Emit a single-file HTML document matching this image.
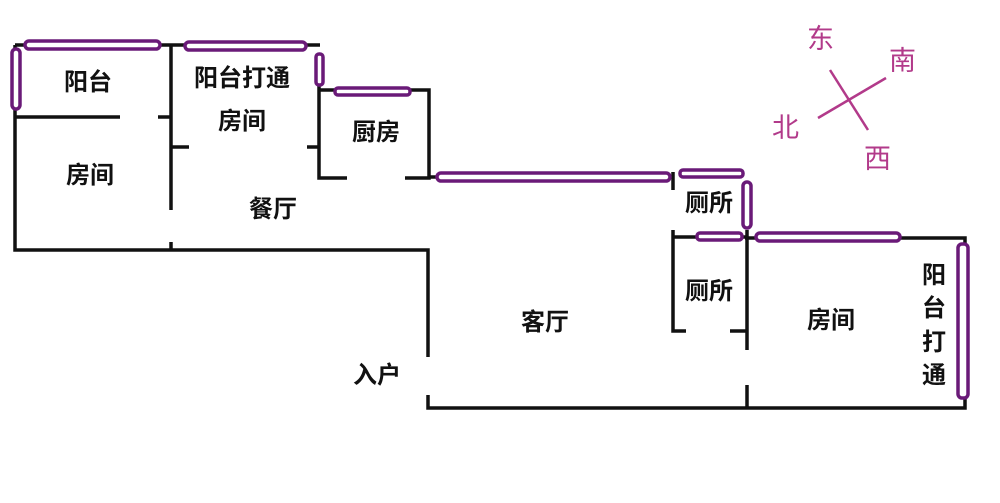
<!DOCTYPE html>
<html><head><meta charset="utf-8"><style>
body{margin:0;background:#fff;}
svg{display:block}
text{font-family:"Liberation Sans","Noto Sans CJK SC",sans-serif;font-size:24px;font-weight:bold;fill:#111;}
.c{fill:#b23a8a;font-size:27px;font-weight:normal}
</style></head><body>
<svg width="1000" height="503" viewBox="0 0 1000 503">
<g stroke="#111" stroke-width="3.5" fill="none">
<path d="M15 45 H320 M15 45 V250 H428 V357 M428 395 V408 H965 V238 H745"/>
<path d="M15 117 H120 M158 117 H171 M171 45 V210 M171 242 V250"/>
<path d="M171 147 H189 M307 147 H319 M319 60 V178 H347 M405 178 H429 V90 H319"/>
<path d="M429 177 H440"/>
<path d="M673 172 V190 M673 230 V331 H686 M730 331 H747 M747 237 V350 M747 385 V408 M673 237 H747 V230"/>
</g>
<g stroke="#6a1a78" stroke-width="3.5" fill="#fff">
<rect x="25" y="41" width="135" height="8" rx="4"/>
<rect x="12" y="49" width="8" height="60" rx="4"/>
<rect x="185" y="42" width="121" height="8" rx="4"/>
<rect x="316" y="54" width="7" height="31" rx="3"/>
<rect x="335" y="88" width="75" height="7" rx="3"/>
<rect x="437" y="173" width="233" height="8" rx="4"/>
<rect x="680" y="170" width="63" height="7" rx="3"/>
<rect x="743" y="182" width="8" height="46" rx="4"/>
<rect x="697" y="233" width="45" height="7" rx="3"/>
<rect x="756" y="233" width="144" height="8" rx="4"/>
<rect x="958" y="244" width="10" height="154" rx="4"/>
</g>
<g stroke="#b23a8a" stroke-width="2.5">
<line x1="830" y1="70" x2="868" y2="130"/>
<line x1="886" y1="78" x2="818" y2="118"/>
</g>
<text class="c" x="807" y="48">东</text>
<text class="c" x="889" y="70">南</text>
<text class="c" x="772" y="137">北</text>
<text class="c" x="864" y="168">西</text>
<g text-anchor="middle">
<text x="88" y="90">阳台</text>
<text x="242" y="86">阳台打通</text>
<text x="242" y="129">房间</text>
<text x="376" y="140">厨房</text>
<text x="90" y="183">房间</text>
<text x="273" y="217">餐厅</text>
<text x="709" y="211">厕所</text>
<text x="709" y="299">厕所</text>
<text x="545" y="330">客厅</text>
<text x="831" y="328">房间</text>
<text x="377" y="383">入户</text>
<text x="934" y="283">阳</text>
<text x="934" y="316">台</text>
<text x="934" y="350">打</text>
<text x="934" y="383">通</text>
</g>
</svg>
</body></html>
